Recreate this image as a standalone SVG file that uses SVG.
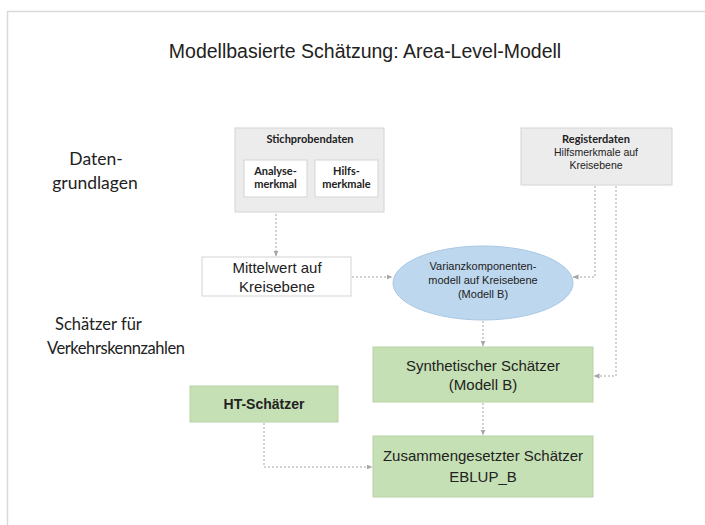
<svg xmlns="http://www.w3.org/2000/svg" width="705" height="525" viewBox="0 0 705 525">
<defs>
<marker id="arr" viewBox="0 0 6 6" refX="5.5" refY="3" markerWidth="6" markerHeight="6" orient="auto" markerUnits="userSpaceOnUse">
<path d="M0,0.5 L6,3 L0,5.5 z" fill="#a6a6a6"/>
</marker>
<style>
.frame{fill:none;stroke:#d9d9d9;stroke-width:1.5}
.gray{fill:#ececec;stroke:#d4d4d4;stroke-width:1}
.white{fill:#ffffff;stroke:#d4d4d4;stroke-width:1}
.green{fill:#c5e0b4;stroke:#b8d3a6;stroke-width:1}
.blue{fill:#bdd7ee;stroke:#a9c8e4;stroke-width:1}
.conn{fill:none;stroke:#a6a6a6;stroke-width:1;stroke-dasharray:2 2;marker-end:url(#arr)}
.cal{font-family:Lato,"Open Sans","Liberation Sans",sans-serif;fill:#222}
.ar{font-family:"Liberation Sans",Arial,sans-serif;fill:#222}
.mid{text-anchor:middle}
.b{font-weight:bold}
</style>
</defs>
<path class="frame" d="M7.5,525 V11.5 H705"/>
<text class="ar mid" x="365" y="58" font-size="19.5">Modellbasierte Schätzung: Area-Level-Modell</text>
<g id="label-daten">
<text class="cal mid" x="96" y="165" font-size="17.5">Daten-</text>
<text class="cal mid" x="95" y="189" font-size="17.5">grundlagen</text>
</g>
<g id="label-schaetzer">
<text class="cal" x="55" y="330" font-size="16.5">Schätzer für</text>
<text class="cal" x="47" y="354" font-size="16.5" textLength="138">Verkehrskennzahlen</text>
</g>
<g id="connectors">
<path class="conn" d="M276,198 V256"/>
<path class="conn" d="M352,277 H392"/>
<path class="conn" d="M595,186 V277 H573"/>
<path class="conn" d="M616,186 V376 H594"/>
<path class="conn" d="M483,321 V346"/>
<path class="conn" d="M483,403 V435"/>
<path class="conn" d="M264,423 V467 H372"/>
</g>
<g id="stichprobendaten">
<rect class="gray" x="235" y="128" width="149" height="84"/>
<text class="cal mid b" x="310" y="143" font-size="11">Stichprobendaten</text>
</g>
<g id="analysemerkmal">
<rect class="white" x="244" y="160" width="63" height="37"/>
<text class="cal mid b" x="275.5" y="175" font-size="11">Analyse-</text>
<text class="cal mid b" x="275.5" y="188" font-size="11">merkmal</text>
</g>
<g id="hilfsmerkmale">
<rect class="white" x="315" y="160" width="63" height="37"/>
<text class="cal mid b" x="346.5" y="175" font-size="11">Hilfs-</text>
<text class="cal mid b" x="346.5" y="188" font-size="11">merkmale</text>
</g>
<g id="registerdaten">
<rect class="gray" x="521" y="128" width="151" height="57"/>
<text class="cal mid b" x="596" y="143" font-size="11">Registerdaten</text>
<text class="ar mid" x="596" y="156" font-size="10.5" fill="#444">Hilfsmerkmale auf</text>
<text class="ar mid" x="596" y="169" font-size="10.5" fill="#444">Kreisebene</text>
</g>
<g id="mittelwert">
<rect class="white" x="202" y="257" width="149" height="39"/>
<text class="ar mid" x="277" y="273" font-size="15">Mittelwert auf</text>
<text class="ar mid" x="277" y="292" font-size="15">Kreisebene</text>
</g>
<g id="varianzkomponentenmodell">
<ellipse class="blue" cx="483" cy="283" rx="90" ry="37"/>
<text class="ar mid" x="483" y="270" font-size="11" fill="#3a3a3a">Varianzkomponenten-</text>
<text class="ar mid" x="483" y="284" font-size="11" fill="#3a3a3a">modell auf Kreisebene</text>
<text class="ar mid" x="483" y="298" font-size="11" fill="#3a3a3a">(Modell B)</text>
</g>
<g id="synthetischer-schaetzer">
<rect class="green" x="373" y="347" width="220" height="55"/>
<text class="ar mid" x="483" y="371" font-size="15">Synthetischer Schätzer</text>
<text class="ar mid" x="483" y="390" font-size="15">(Modell B)</text>
</g>
<g id="ht-schaetzer">
<rect class="green" x="190" y="386" width="148" height="36"/>
<text class="ar mid b" x="264" y="409" font-size="14">HT-Schätzer</text>
</g>
<g id="zusammengesetzter-schaetzer">
<rect class="green" x="373" y="436" width="220" height="61"/>
<text class="ar mid" x="483" y="461" font-size="15">Zusammengesetzter Schätzer</text>
<text class="ar mid" x="483" y="482" font-size="15">EBLUP_B</text>
</g>
</svg>
